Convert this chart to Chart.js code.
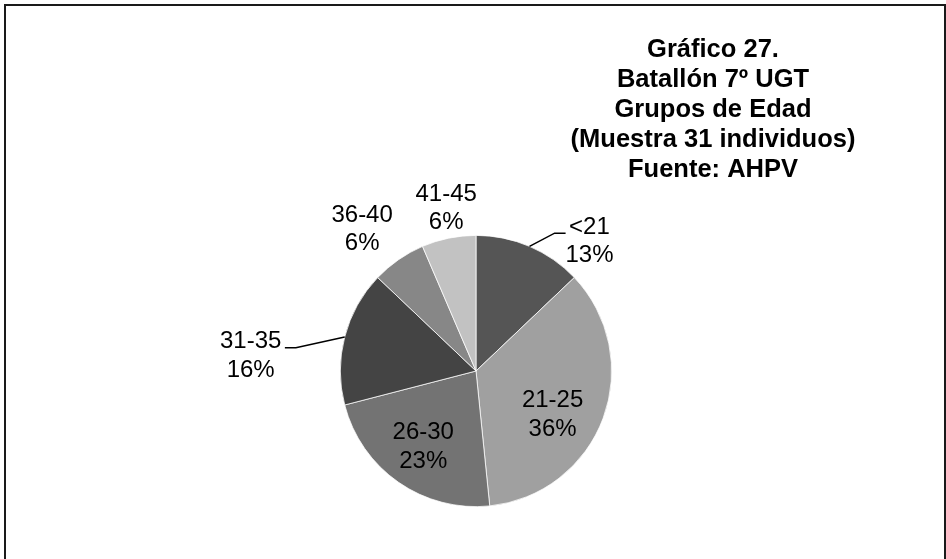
<!DOCTYPE html>
<html>
<head>
<meta charset="utf-8">
<script src="https://cdn.jsdelivr.net/npm/chart.js@4/dist/chart.umd.min.js"></script>
<style>
  html, body { margin: 0; padding: 0; background: #fff; }
  #wrap { width: 946px; height: 559px; position: relative; }
</style>
</head>
<body>
<div id="wrap"><canvas id="pie" width="946" height="559"></canvas></div>
<script>
// datos del gráfico
const grupos = ['<21', '21-25', '26-30', '31-35', '36-40', '41-45'];
const individuos = [4, 11, 7, 5, 2, 2];
const porcentajes = [13, 36, 23, 16, 6, 6];
const colores = ['#555555', '#a0a0a0', '#737373', '#444444', '#878787', '#c2c2c2'];
const tituloLineas = ['Gráfico 27.', 'Batallón 7º UGT', 'Grupos de Edad', '(Muestra 31 individuos)', 'Fuente: AHPV'];

// colocación de etiquetas: ángulo (grados desde arriba), radio relativo, con guía o no
const colocacion = [
    { ang: 41.2, r: 1.27, guia: true },
    { ang: 119.7, r: 0.65, guia: false },
    { ang: 214.9, r: 0.68, guia: false },
    { ang: 273.8, r: 1.665, guia: true },
    { ang: 321.2, r: 1.34, guia: false },
    { ang: 349.6, r: 1.22, guia: false }
];

const FUENTE = '"Liberation Sans", Arial, sans-serif';

const marcoPlugin = {
    id: 'marco',
    beforeDraw(chart) {
        const ctx = chart.ctx;
        ctx.save();
        ctx.fillStyle = '#fff';
        ctx.fillRect(0, 0, chart.width, chart.height);
        ctx.strokeStyle = '#1a1a1a';
        ctx.lineWidth = 2;
        ctx.beginPath();
        ctx.moveTo(5, 600);
        ctx.lineTo(5, 5);
        ctx.lineTo(945, 5);
        ctx.lineTo(945, 600);
        ctx.stroke();
        ctx.restore();
    }
};

const tituloPlugin = {
    id: 'titulo',
    afterDraw(chart) {
        const ctx = chart.ctx;
        ctx.save();
        ctx.fillStyle = '#000';
        ctx.font = 'bold 25.5px ' + FUENTE;
        ctx.textAlign = 'center';
        ctx.textBaseline = 'alphabetic';
        tituloLineas.forEach((t, i) => ctx.fillText(t, 713, 56.5 + i * 30));
        ctx.restore();
    }
};

const etiquetasPlugin = {
    id: 'etiquetas',
    afterDatasetsDraw(chart) {
        const ctx = chart.ctx;
        const meta = chart.getDatasetMeta(0);
        ctx.save();
        ctx.font = '24px ' + FUENTE;
        ctx.fillStyle = '#000';
        ctx.textAlign = 'center';
        ctx.textBaseline = 'middle';
        meta.data.forEach((arc, i) => {
            const p = arc.getProps(['x', 'y', 'startAngle', 'endAngle', 'outerRadius'], true);
            const medio = (p.startAngle + p.endAngle) / 2;
            const c = colocacion[i];
            const a = (c.ang - 90) * Math.PI / 180;
            const lx = p.x + Math.cos(a) * p.outerRadius * c.r;
            const ly = p.y + Math.sin(a) * p.outerRadius * c.r;
            const lineH = 28.5;
            ctx.fillText(grupos[i], lx, ly - lineH / 2);
            ctx.fillText(porcentajes[i] + '%', lx, ly + lineH / 2);
            if (c.guia) {
                // línea guía desde el borde del sector hasta la etiqueta
                const ex = p.x + Math.cos(medio) * p.outerRadius;
                const ey = p.y + Math.sin(medio) * p.outerRadius;
                const w = ctx.measureText(grupos[i]).width;
                const lado = Math.cos(medio) >= 0 ? 1 : -1;
                const fx = lx - lado * (w / 2 + 3.5);
                const fy = ly - lineH / 2 + 6;
                ctx.strokeStyle = '#000';
                ctx.lineWidth = 1.5;
                ctx.beginPath();
                ctx.moveTo(ex, ey);
                ctx.lineTo(fx - lado * 11, fy);
                ctx.lineTo(fx, fy);
                ctx.stroke();
            }
        });
        ctx.restore();
    }
};

new Chart(document.getElementById('pie'), {
    type: 'pie',
    data: {
        labels: grupos,
        datasets: [{
            data: individuos,
            backgroundColor: colores,
            borderColor: '#ffffff',
            borderWidth: 0.75
        }]
    },
    options: {
        responsive: false,
        animation: false,
        layout: { padding: { left: 340, right: 334, top: 235, bottom: 52 } },
        plugins: {
            legend: { display: false },
            tooltip: { enabled: false },
            title: { display: false }
        }
    },
    plugins: [marcoPlugin, tituloPlugin, etiquetasPlugin]
});
</script>
</body>
</html>
